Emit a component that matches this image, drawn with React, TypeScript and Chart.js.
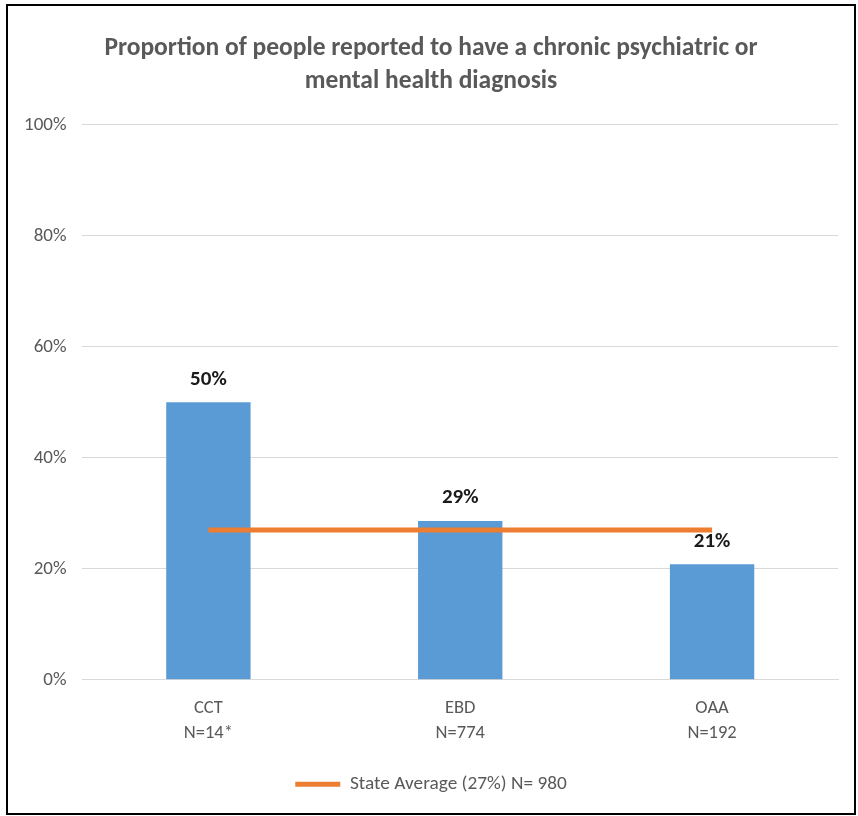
import React, { useEffect, useRef } from "react";
import { Chart, registerables } from "chart.js";

Chart.register(...registerables);

const categories: string[][] = [["CCT", "N=14*"], ["EBD", "N=774"], ["OAA", "N=192"]];
const groupValues: number[] = [50, 28.6, 20.8];
const stateAverage: number[] = [27, 27, 27];
const stateLabel = "State Average (27%) N= 980";
const titleLines: string[] = [
  "Proportion of people reported to have a chronic psychiatric or",
  "mental health diagnosis",
];
const yTicks: number[] = [0, 20, 40, 60, 80, 100];

const FONT = "Carlito, Calibri, 'Liberation Sans Narrow', 'Open Sans', sans-serif";

const dataLabelPlugin = {
  id: "dataLabels",
  afterDatasetsDraw(chart: any) {
    const ctx = chart.ctx;
    const meta = chart.getDatasetMeta(0);
    ctx.save();
    ctx.font = `bold 21px ${FONT}`;
    ctx.fillStyle = "#1a1a1a";
    ctx.textAlign = "center";
    ctx.textBaseline = "middle";
    meta.data.forEach((el: any, i: number) => {
      ctx.fillText(`${Math.round(groupValues[i])}%`, el.x, el.y - 23);
    });
    ctx.restore();
  },
};

export default function App() {
  const ref = useRef<HTMLCanvasElement | null>(null);
  useEffect(() => {
    document.body.style.margin = "0";
    if (!ref.current) return;
    const chart = new Chart(ref.current, {
      type: "bar",
      data: {
        labels: categories,
        datasets: [
          {
            type: "bar",
            label: "Groups",
            data: groupValues,
            backgroundColor: "#5B9BD5",
            categoryPercentage: 1,
            barPercentage: 0.335,
            order: 2,
          },
          {
            type: "line",
            label: stateLabel,
            data: stateAverage,
            borderColor: "#ED7D31",
            backgroundColor: "#ED7D31",
            borderWidth: 5,
            pointRadius: 0,
            order: 1,
          } as any,
        ],
      },
      options: {
        animation: false,
        responsive: false,
        layout: { padding: { left: 16, right: 16, top: 10, bottom: 9 } },
        plugins: {
          title: {
            display: true,
            text: titleLines,
            color: "#595959",
            font: { family: FONT, size: 25.5, weight: "bold", lineHeight: 1.29 },
            padding: { top: 16.5, bottom: 26.5 },
          },
          legend: {
            position: "bottom",
            labels: {
              filter: (item: any) => item.datasetIndex === 1,
              usePointStyle: true,
              pointStyle: "line",
              pointStyleWidth: 45,
              color: "#595959",
              font: { family: FONT, size: 19.3 },
              boxWidth: 45,
              padding: 10,
            },
          },
          tooltip: { enabled: false },
        },
        scales: {
          x: {
            grid: { display: false },
            border: { display: true, color: "#D9D9D9" },
            ticks: {
              color: "#595959",
              font: { family: FONT, size: 18.5, lineHeight: 1.35 },
              padding: 8.5,
            },
            afterFit: (axis: any) => {
              axis.height += 10;
            },
          },
          y: {
            min: 0,
            max: 100,
            afterBuildTicks: (axis: any) => {
              axis.ticks = yTicks.map((v) => ({ value: v }));
            },
            afterFit: (axis: any) => {
              axis.width -= 16;
            },
            grid: { color: "#D9D9D9", lineWidth: 1, drawTicks: false },
            border: { display: false },
            ticks: {
              color: "#595959",
              font: { family: FONT, size: 19 },
              padding: 16,
              callback: (v: any) => `${v}%`,
            },
          },
        },
      },
      plugins: [dataLabelPlugin],
    });
    return () => chart.destroy();
  }, []);

  return (
    <div
      style={{
        position: "absolute",
        left: 6,
        top: 4,
        width: 846,
        height: 807,
        border: "2px solid #000",
        background: "#fff",
      }}
    >
      <canvas ref={ref} width={846} height={807} style={{ display: "block" }} />
    </div>
  );
}
